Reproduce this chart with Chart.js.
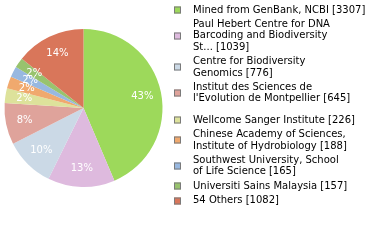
<!DOCTYPE html>
<html>
<head>
<meta charset="utf-8">
<script src="https://cdn.jsdelivr.net/npm/chart.js@4"></script>
<style>
  html, body { margin: 0; padding: 0; background: #fff; }
  canvas { display: block; }
</style>
</head>
<body>
<canvas id="chart" width="380" height="240"></canvas>
<script>
'use strict';

// ─── Data ─────────────────────────────────────────────────────────
const institutions = [
  ['Mined from GenBank, NCBI [3307]'],
  ['Paul Hebert Centre for DNA', 'Barcoding and Biodiversity', 'St... [1039]'],
  ['Centre for Biodiversity', 'Genomics [776]'],
  ['Institut des Sciences de', "l'Evolution de Montpellier [645]"],
  ['Wellcome Sanger Institute [226]'],
  ['Chinese Academy of Sciences,', 'Institute of Hydrobiology [188]'],
  ['Southwest University, School', 'of Life Science [165]'],
  ['Universiti Sains Malaysia [157]'],
  ['54 Others [1082]'],
];
const records = [3307, 1039, 776, 645, 226, 188, 165, 157, 1082];
const sliceColors = [
  '#9dd95b', '#debade', '#cbd9e6', '#dfa39b', '#dde29b',
  '#f0a96e', '#98b8e0', '#98c36e', '#d9765a',
];

const FONT = '10px "DejaVu Sans", Verdana, sans-serif';

// Percent labels inside the slices (floored, like the reference)
const sliceLabels = {
  id: 'sliceLabels',
  afterDatasetsDraw(chart) {
    const { ctx } = chart;
    const meta = chart.getDatasetMeta(0);
    const total = records.reduce((a, b) => a + b, 0);
    ctx.save();
    ctx.font = FONT;
    ctx.fillStyle = '#fff';
    ctx.textAlign = 'center';
    ctx.textBaseline = 'middle';
    meta.data.forEach((arc, i) => {
      const mid = (arc.startAngle + arc.endAngle) / 2;
      const r = arc.outerRadius * 0.76;
      const pct = Math.floor(records[i] / total * 100);
      ctx.fillText(pct + '%', arc.x + Math.cos(mid) * r, arc.y + Math.sin(mid) * r);
    });
    ctx.restore();
  }
};

// Wrapped legend on the right
const sideLegend = {
  id: 'sideLegend',
  afterDraw(chart) {
    const { ctx } = chart;
    const lineH = 11.4, gap = 3, boxX = 174, box = 7, textX = 193;
    let y = 4.3;
    ctx.save();
    ctx.font = FONT;
    ctx.textBaseline = 'middle';
    institutions.forEach((lines, i) => {
      const h = lines.length * lineH;
      const cy = Math.round(y + h / 2);
      ctx.fillStyle = sliceColors[i];
      ctx.fillRect(boxX, cy - 3.5, box, box);
      ctx.strokeStyle = '#7a7a7a';
      ctx.lineWidth = 1;
      ctx.strokeRect(boxX + 0.5, cy - 3.5 + 0.5, box - 1, box - 1);
      ctx.fillStyle = '#000';
      lines.forEach((t, k) => ctx.fillText(t, textX, y + lineH * (k + 0.5)));
      y += h + gap;
      if (i === 3) y += 7; // reference leaves a wider gap after the 4th entry
    });
    ctx.restore();
  }
};

new Chart(document.getElementById('chart'), {
  type: 'pie',
  data: {
    labels: institutions.map(l => l.join(' ')),
    datasets: [{
      data: records,
      backgroundColor: sliceColors,
      borderWidth: 0,
    }],
  },
  options: {
    responsive: false,
    devicePixelRatio: 1,
    animation: false,
    layout: { padding: { left: 4, top: 29, right: 217, bottom: 53 } },
    plugins: {
      legend: { display: false },
      tooltip: { enabled: false },
    },
  },
  plugins: [sliceLabels, sideLegend],
});
</script>
</body>
</html>
